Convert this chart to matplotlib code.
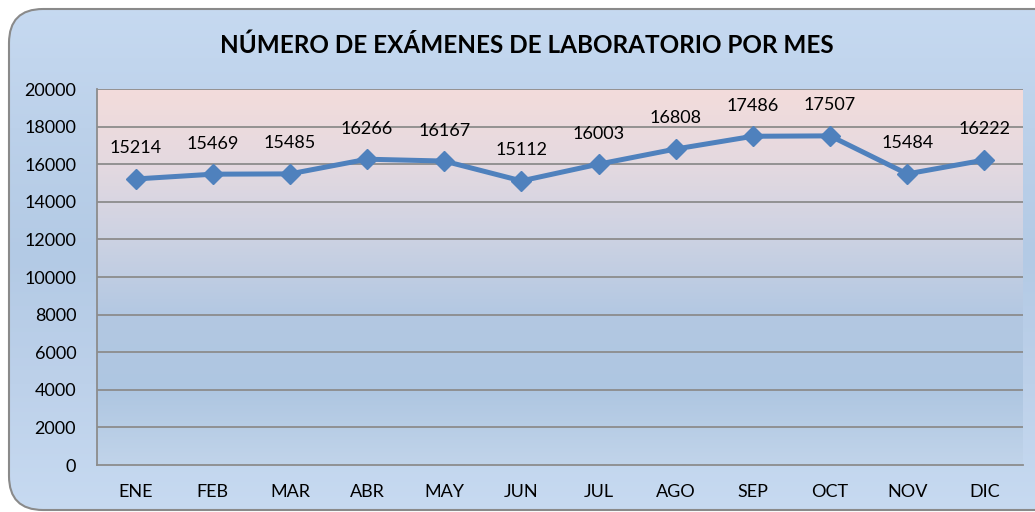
import numpy as np
import matplotlib
matplotlib.use("Agg")
import matplotlib.pyplot as plt
from matplotlib.colors import LinearSegmentedColormap
from matplotlib.patches import FancyBboxPatch

months = ["ENE", "FEB", "MAR", "ABR", "MAY", "JUN", "JUL", "AGO", "SEP", "OCT", "NOV", "DIC"]
values = [15214, 15469, 15485, 16266, 16167, 15112, 16003, 16808, 17486, 17507, 15484, 16222]
yticks = [0, 2000, 4000, 6000, 8000, 10000, 12000, 14000, 16000, 18000, 20000]
title = "NÚMERO DE EXÁMENES DE LABORATORIO POR MES"

plt.rcParams['font.family'] = ['Lato', 'DejaVu Sans']

W, H = 1035, 512
fig = plt.figure(figsize=(W / 100, H / 100), dpi=100)
fig.patch.set_facecolor("white")

# figure background gradient
bg = fig.add_axes([0, 0, 1, 1], zorder=-10)
bg.set_axis_off()
bg.set_xlim(0, W)
bg.set_ylim(H, 0)
bgcmap = LinearSegmentedColormap.from_list("bg", ["#c7daf1", "#bcd1ea", "#b3cae5", "#bdd1ea", "#c7daf1"])
grad = np.linspace(0, 1, 256).reshape(-1, 1)
img = bg.imshow(grad, cmap=bgcmap, aspect="auto", extent=[0, W, H, 0], zorder=0)
box = FancyBboxPatch((9, 9), W + 40, H - 11, boxstyle="round,pad=0,rounding_size=34",
                     facecolor="none", edgecolor="#8a8a8a", linewidth=1.5, zorder=2)
bg.add_patch(box)
img.set_clip_path(box)

# main axes
left, right, top, bottom = 97, 1023, 89, 465
ax = fig.add_axes([left / W, 1 - bottom / H, (right - left) / W, (bottom - top) / H])
ax.set_facecolor("none")
x = np.arange(len(months))
ax.set_xlim(-0.5, len(months) - 0.5)
ax.set_ylim(0, 20000)

pacmap = LinearSegmentedColormap.from_list("pa", ["#f3dcdb", "#e4d9e0", "#ccd2e3", "#b3c8e2", "#aec6e1", "#c1d4ea"])
ax.imshow(grad, cmap=pacmap, aspect="auto", extent=[-0.5, len(months) - 0.5, 0, 20000], zorder=0)

for yv in yticks[1:]:
    ax.axhline(yv, color="#8c8c8c", linewidth=1.3, zorder=1)

ax.plot(x, values, color="#4f81bd", linewidth=3.6, marker="D", markersize=10,
        markerfacecolor="#4f81bd", markeredgecolor="#4f81bd", zorder=3)

for xi, v in zip(x, values):
    ax.annotate(f"{v}", (xi, v), xytext=(0, 22), textcoords="offset points",
                ha="center", va="center", fontsize=13, color="#000000", zorder=4)

ax.set_xticks(x)
ax.set_xticklabels(months, fontsize=13)
ax.set_yticks(yticks)
ax.set_yticklabels([str(t) for t in yticks], fontsize=13)
ax.tick_params(axis="x", length=0, pad=14)
ax.tick_params(axis="y", length=0, pad=15)
for s in ["top", "right"]:
    ax.spines[s].set_visible(False)
for s in ["left", "bottom"]:
    ax.spines[s].set_color("#8c8c8c")
    ax.spines[s].set_linewidth(1.3)

fig.text(527 / W, 1 - 45 / H, title, ha="center", va="center", fontsize=17.5, fontweight="bold")

fig.savefig("out.png", dpi=100)
